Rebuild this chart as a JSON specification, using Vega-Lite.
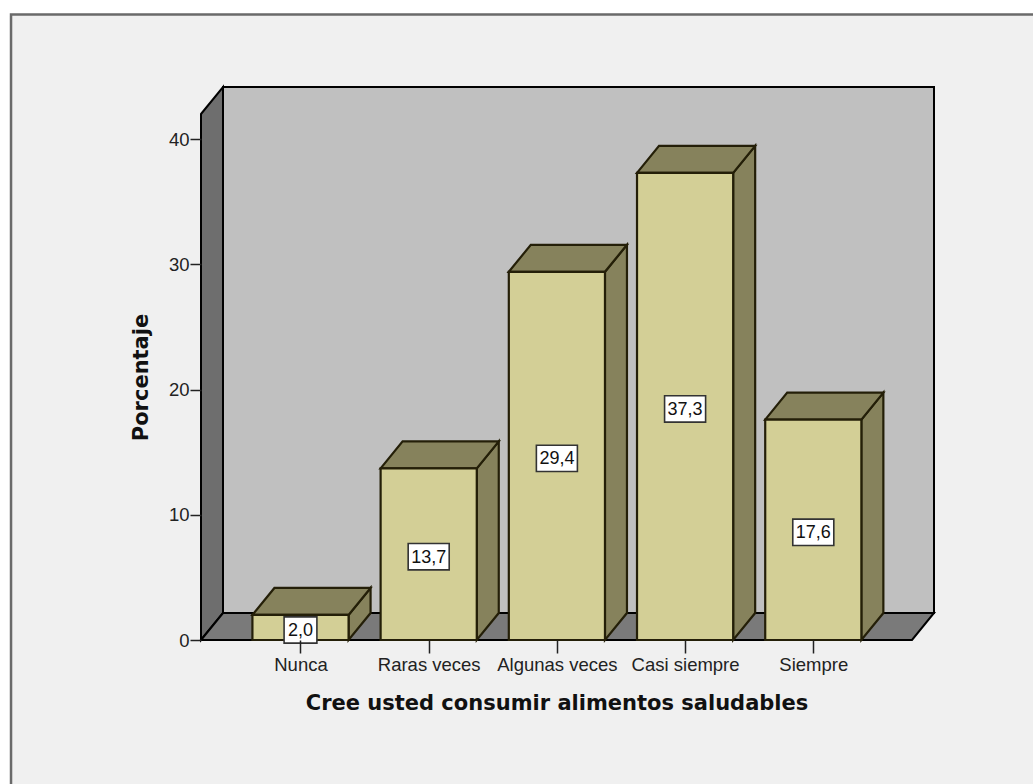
{
  "$schema": "https://vega.github.io/schema/vega-lite/v6.json",
  "width": 711,
  "height": 526,
  "autosize": {"type": "none"},
  "padding": {"left": 201, "top": 114, "right": 121, "bottom": 144},
  "background": "#ffffff",
  "config": {
    "view": {"stroke": null},
    "font": "Liberation Sans",
    "axis": {"grid": false, "domain": false}
  },
  "datasets": {
    "respuestas": [
      {"categoria": "Nunca", "orden": 1, "porcentaje": 2.0},
      {"categoria": "Raras veces", "orden": 2, "porcentaje": 13.7},
      {"categoria": "Algunas veces", "orden": 3, "porcentaje": 29.4},
      {"categoria": "Casi siempre", "orden": 4, "porcentaje": 37.3},
      {"categoria": "Siempre", "orden": 5, "porcentaje": 17.6}
    ],
    "paso": [{"t": 0}, {"t": 1}]
  },
  "layer": [
    {
      "description": "Panel behind the chart",
      "mark": {"type": "rect", "fill": "#f0f0f0", "stroke": "#6a6a6a", "strokeWidth": 2.5, "clip": false},
      "data": {"values": [{}]},
      "encoding": {
        "x": {"datum": -1.258, "type": "quantitative", "scale": {"domain": [0.2239, 5.77], "nice": false, "zero": false}, "axis": {
          "zindex": 1,
          "title": "Cree usted consumir alimentos saludables",
          "titleFontSize": 21, "titleFontWeight": "bold", "titleColor": "#111111", "titleFont": "DejaVu Sans", "titlePadding": 19,
          "values": [1, 2, 3, 4, 5],
          "labelExpr": "['Nunca', 'Raras veces', 'Algunas veces', 'Casi siempre', 'Siempre'][datum.value - 1]",
          "labelFontSize": 18.5, "labelColor": "#222222", "labelPadding": 2, "labelFlush": false, "labelOverlap": false, "labelBound": false,
          "tickColor": "#222222", "tickSize": 13, "tickWidth": 1.5
        }},
        "x2": {"datum": 6.8},
        "y": {"datum": -25, "type": "quantitative", "scale": {"domain": [0, 42], "nice": false, "zero": false}, "axis": {
          "zindex": 1,
          "title": "Porcentaje",
          "titleFontSize": 21, "titleFontWeight": "bold", "titleColor": "#111111", "titleFont": "DejaVu Sans", "titlePadding": 17,
          "values": [0, 10, 20, 30, 40],
          "labelFontSize": 18.5, "labelColor": "#222222", "labelPadding": 1,
          "tickColor": "#222222", "tickSize": 11, "tickWidth": 1.5
        }},
        "y2": {"datum": 49.95}
      }
    },
    {
      "description": "Back wall",
      "mark": {"type": "rect", "fill": "#c0c0c0", "stroke": "#000000", "strokeWidth": 2, "clip": false},
      "data": {"values": [{}]},
      "encoding": {
        "x": {"datum": 0.3955, "type": "quantitative"},
        "x2": {"datum": 5.9416},
        "y": {"datum": 2.156, "type": "quantitative"},
        "y2": {"datum": 44.156}
      }
    },
    {
      "description": "Left wall",
      "data": {"name": "paso"},
      "transform": [
        {"calculate": "0.2239 + datum.t * 0.1716", "as": "px"},
        {"calculate": "datum.t * 2.156", "as": "base"},
        {"calculate": "42 + datum.t * 2.156", "as": "tope"}
      ],
      "mark": {"type": "area", "fill": "#6e6e6e", "stroke": "#000000", "strokeWidth": 2, "clip": false},
      "encoding": {
        "x": {"field": "px", "type": "quantitative"},
        "y": {"field": "tope", "type": "quantitative"},
        "y2": {"field": "base"}
      }
    },
    {
      "description": "Floor, a parallelogram under the bars",
      "data": {"values": [{"i": 0}, {"i": 1}, {"i": 2}, {"i": 3}]},
      "transform": [
        {"calculate": "[0.2239, 0.3955, 5.77, 5.9416][datum.i]", "as": "px"},
        {"calculate": "[0, 0, 0, 2.156][datum.i]", "as": "base"},
        {"calculate": "[0, 2.156, 2.156, 2.156][datum.i]", "as": "tope"}
      ],
      "mark": {"type": "area", "fill": "#7a7a7a", "stroke": "#000000", "strokeWidth": 2, "clip": false},
      "encoding": {
        "x": {"field": "px", "type": "quantitative"},
        "y": {"field": "tope", "type": "quantitative"},
        "y2": {"field": "base"}
      }
    },
    {
      "description": "Right side of each bar",
      "data": {"name": "respuestas"},
      "transform": [
        {"calculate": "[0, 1]", "as": "t"},
        {"flatten": ["t"]},
        {"calculate": "datum.orden + 0.375 + datum.t * 0.1716", "as": "px"},
        {"calculate": "datum.t * 2.156", "as": "base"},
        {"calculate": "datum.porcentaje + datum.t * 2.156", "as": "tope"}
      ],
      "mark": {"type": "area", "fill": "#86825c", "stroke": "#241f08", "strokeWidth": 2.2, "clip": false},
      "encoding": {
        "x": {"field": "px", "type": "quantitative"},
        "y": {"field": "tope", "type": "quantitative"},
        "y2": {"field": "base"},
        "detail": {"field": "categoria"}
      }
    },
    {
      "description": "Top of each bar",
      "data": {"name": "respuestas"},
      "transform": [
        {"calculate": "[0, 1, 2, 3]", "as": "i"},
        {"flatten": ["i"]},
        {"calculate": "datum.orden + [-0.375, -0.2034, 0.375, 0.5466][datum.i]", "as": "px"},
        {"calculate": "datum.porcentaje + [0, 0, 0, 2.156][datum.i]", "as": "base"},
        {"calculate": "datum.porcentaje + [0, 2.156, 2.156, 2.156][datum.i]", "as": "tope"}
      ],
      "mark": {"type": "area", "fill": "#86825c", "stroke": "#241f08", "strokeWidth": 2.2, "clip": false},
      "encoding": {
        "x": {"field": "px", "type": "quantitative"},
        "y": {"field": "tope", "type": "quantitative"},
        "y2": {"field": "base"},
        "detail": {"field": "categoria"}
      }
    },
    {
      "description": "Front of each bar",
      "data": {"name": "respuestas"},
      "transform": [
        {"calculate": "datum.orden - 0.375", "as": "izq"},
        {"calculate": "datum.orden + 0.375", "as": "der"}
      ],
      "mark": {"type": "rect", "fill": "#d3cf96", "stroke": "#241f08", "strokeWidth": 2.2, "clip": false},
      "encoding": {
        "x": {"field": "izq", "type": "quantitative"},
        "x2": {"field": "der"},
        "y": {"field": "porcentaje", "type": "quantitative"},
        "y2": {"datum": 0}
      }
    },
    {
      "description": "Value box in the middle of each bar, sized to its text",
      "data": {"name": "respuestas"},
      "transform": [
        {"calculate": "datum.porcentaje < 10 ? 0.128 : 0.16", "as": "semi"},
        {"calculate": "datum.orden - datum.semi", "as": "izq"},
        {"calculate": "datum.orden + datum.semi", "as": "der"},
        {"calculate": "datum.porcentaje / 2 - 1.25", "as": "abajo"},
        {"calculate": "datum.porcentaje / 2 + 0.85", "as": "arriba"}
      ],
      "mark": {"type": "rect", "fill": "#ffffff", "stroke": "#333333", "strokeWidth": 1.6, "clip": false},
      "encoding": {
        "x": {"field": "izq", "type": "quantitative"},
        "x2": {"field": "der"},
        "y": {"field": "abajo", "type": "quantitative"},
        "y2": {"field": "arriba"}
      }
    },
    {
      "description": "Value text, with a decimal comma",
      "data": {"name": "respuestas"},
      "transform": [
        {"calculate": "replace(format(datum.porcentaje, '.1f'), '.', ',')", "as": "etiqueta"},
        {"calculate": "datum.porcentaje / 2 - 0.28", "as": "medio"}
      ],
      "mark": {"type": "text", "fontSize": 18, "color": "#111111", "align": "center", "baseline": "middle", "clip": false},
      "encoding": {
        "x": {"field": "orden", "type": "quantitative"},
        "y": {"field": "medio", "type": "quantitative"},
        "text": {"field": "etiqueta"}
      }
    }
  ]
}
